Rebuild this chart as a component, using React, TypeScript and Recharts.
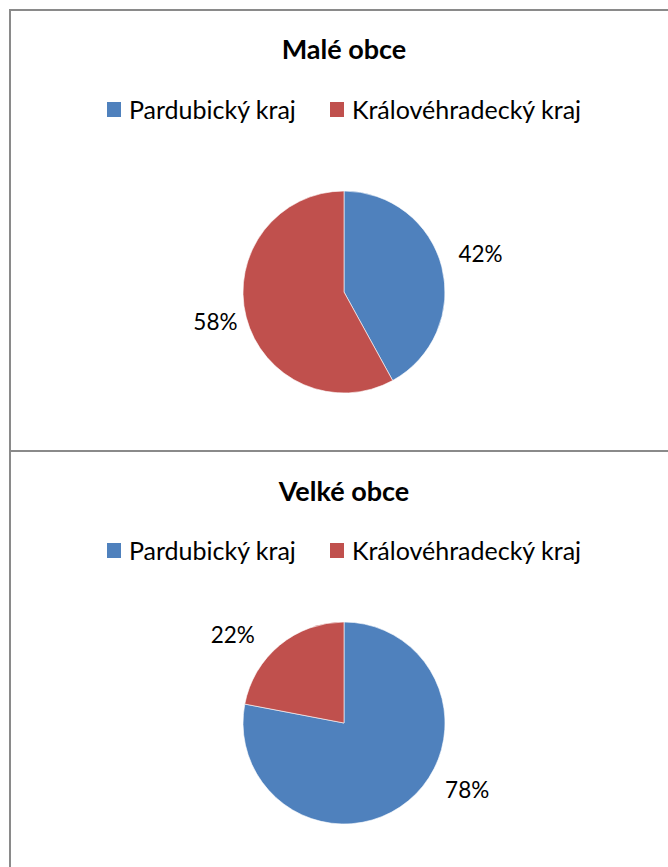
import { PieChart, Pie, Cell } from "recharts";

const regions = ["Pardubický kraj", "Královéhradecký kraj"];
const regionColors = ["#4F81BD", "#C0504D"];
const smallTownShares = [42, 58];
const largeTownShares = [78, 22];

const FONT = "Lato, 'Noto Sans', sans-serif";
const BORDER = "#8A8A8A";
const RAD = Math.PI / 180;

type LabelPlace = { shift: number; r: number };

function LegendRow() {
  return (
    <div style={{ display: "flex", justifyContent: "center", fontFamily: FONT, fontSize: 25, color: "#000" }}>
      {regions.map((name, i) => (
        <div key={name} style={{ display: "flex", alignItems: "center", marginRight: i === 0 ? 34 : 0 }}>
          <span style={{ width: 14, height: 15, background: regionColors[i], marginRight: 8, display: "inline-block" }} />
          <span>{name}</span>
        </div>
      ))}
    </div>
  );
}

function Panel({ title, shares, top, height, cy, titleTop, legendTop, places }: { title: string; shares: number[]; top: number; height: number; cy: number; titleTop: number; legendTop: number; places: LabelPlace[] }) {
  const data = regions.map((name, i) => ({ name, value: shares[i] }));
  const renderLabel = (p: any) => {
    const pl = places[p.index];
    const a = (p.midAngle - pl.shift) * RAD;
    const x = p.cx + pl.r * Math.cos(a);
    const y = p.cy - pl.r * Math.sin(a);
    return (
      <text x={x} y={y} textAnchor="middle" dominantBaseline="central" fill="#000" fontFamily={FONT} fontSize={22.5}>
        {`${Math.round(p.percent * 100)}%`}
      </text>
    );
  };
  return (
    <div style={{ position: "absolute", left: 0, top, width: 668, height }}>
      <div style={{ position: "absolute", left: 0, top: titleTop, width: 688, textAlign: "center", fontFamily: FONT, fontWeight: 700, fontSize: 27, color: "#000" }}>
        {title}
      </div>
      <PieChart width={668} height={height} margin={{ top: 0, right: 0, bottom: 0, left: 0 }}>
        <Pie
          data={data}
          dataKey="value"
          nameKey="name"
          cx={344}
          cy={cy}
          outerRadius={101}
          startAngle={90}
          endAngle={-270}
          stroke="#fff"
          strokeWidth={0.6}
          label={renderLabel}
          labelLine={false}
          isAnimationActive={false}
        >
          {data.map((d, i) => (
            <Cell key={d.name} fill={regionColors[i]} />
          ))}
        </Pie>
      </PieChart>
      <div style={{ position: "absolute", left: 0, top: legendTop, width: 688 }}>
        <LegendRow />
      </div>
    </div>
  );
}

export default function App() {
  return (
    <div style={{ position: "absolute", left: 0, top: 0, width: 668, height: 867, background: "#fff", overflow: "hidden" }}>
      <Panel title="Malé obce" shares={smallTownShares} top={0} height={450} cy={292} titleTop={32} legendTop={94} places={[{ shift: -1.5, r: 142 }, { shift: 1.3, r: 132 }]} />
      <Panel title="Velké obce" shares={largeTownShares} top={452} height={415} cy={271} titleTop={22} legendTop={83} places={[{ shift: -22, r: 140 }, { shift: -12, r: 142 }]} />
      <div style={{ position: "absolute", left: 9, top: 9, width: 2, height: 858, background: BORDER }} />
      <div style={{ position: "absolute", left: 9, top: 9, width: 659, height: 2, background: BORDER }} />
      <div style={{ position: "absolute", left: 9, top: 450, width: 659, height: 2, background: BORDER }} />
    </div>
  );
}
